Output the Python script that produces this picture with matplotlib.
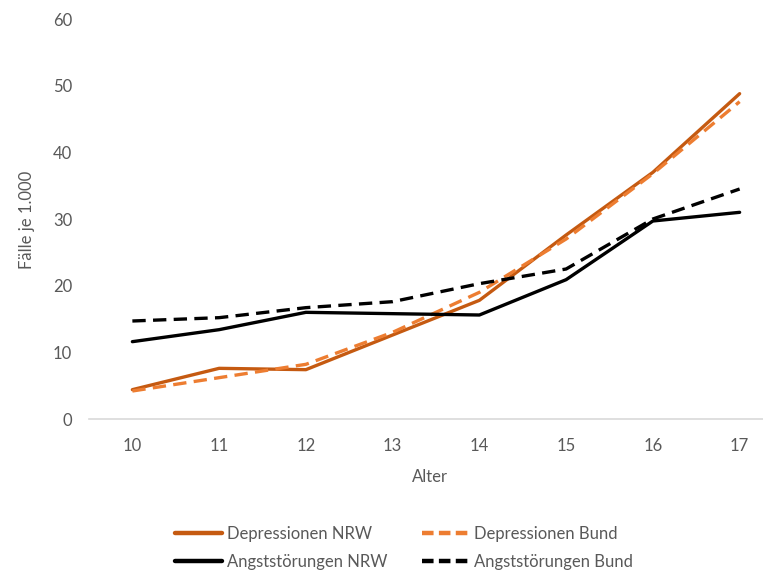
import matplotlib
matplotlib.use("Agg")
import matplotlib.pyplot as plt

ages = [10, 11, 12, 13, 14, 15, 16, 17]
dep_nrw = [4.4, 7.6, 7.4, 12.6, 17.8, 27.6, 37.0, 48.8]
dep_bund = [4.2, 6.2, 8.2, 13.0, 19.0, 27.0, 36.8, 47.6]
angst_nrw = [11.6, 13.4, 16.0, 15.8, 15.6, 20.9, 29.7, 31.0]
angst_bund = [14.7, 15.2, 16.7, 17.6, 20.3, 22.5, 30.0, 34.5]
y_ticks = [0, 10, 20, 30, 40, 50, 60]

plt.rcParams['font.family'] = ['Lato', 'DejaVu Sans']

W, H = 763, 574
fig = plt.figure(figsize=(W / 100, H / 100), dpi=100)
ax = fig.add_axes([89 / W, (H - 419) / H, (783 - 89) / W, 400 / H])

dash = (4.0, 2.2)
l1, = ax.plot(ages, dep_nrw, color='#C55A11', lw=2.4, label='Depressionen NRW',
              solid_capstyle='round', solid_joinstyle='round')
l2, = ax.plot(ages, dep_bund, color='#ED7D31', lw=2.4, label='Depressionen Bund',
              dashes=dash)
l3, = ax.plot(ages, angst_nrw, color='#000000', lw=2.4, label='Angststörungen NRW',
              solid_capstyle='round', solid_joinstyle='round')
l4, = ax.plot(ages, angst_bund, color='#000000', lw=2.4, label='Angststörungen Bund',
              dashes=dash)

ax.set_xlim(9.5, 17.5)
ax.set_ylim(0, 60)
ax.set_xticks(ages)
ax.set_yticks(y_ticks)
for s in ['top', 'right', 'left']:
    ax.spines[s].set_visible(False)
ax.spines['bottom'].set_color('#D9D9D9')
ax.spines['bottom'].set_linewidth(1.2)
ax.tick_params(axis='both', length=0, colors='#595959', labelsize=12)
ax.tick_params(axis='x', pad=14)
ax.tick_params(axis='y', pad=12)

fig.text(27 / W, 1 - 220 / H, 'Fälle je 1.000', rotation=90, ha='center', va='center',
         color='#595959', fontsize=12)
fig.text(430 / W, 1 - 477 / H, 'Alter', ha='center', va='center',
         color='#595959', fontsize=12)

leg = fig.legend([l1, l3, l2, l4],
                 [l.get_label() for l in (l1, l3, l2, l4)],
                 ncol=2, loc='center left', bbox_to_anchor=(175 / W, 1 - 548 / H),
                 frameon=False, fontsize=12, labelcolor='#595959',
                 handlelength=2.8, handletextpad=0.3, columnspacing=2.1,
                 labelspacing=0.7, borderpad=0, borderaxespad=0)
for h in leg.legend_handles:
    h.set_linewidth(3.2)
    if h.get_linestyle() != '-':
        h.set_dashes((2.6, 1.2))

fig.savefig('out.png', dpi=100)
